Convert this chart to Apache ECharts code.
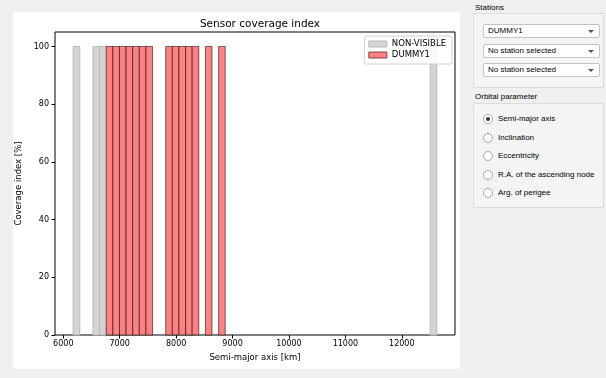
<!DOCTYPE html>
<html>
<head>
<meta charset="utf-8">
<script src="https://cdn.jsdelivr.net/npm/echarts@6/dist/echarts.min.js"></script>
<style>
  html, body { margin: 0; padding: 0; width: 606px; height: 378px; background: #f0f0f0; overflow: hidden; }
  #figure { position: absolute; left: 13px; top: 12px; width: 447px; height: 357px; background: #ffffff; }
  #chart { position: absolute; left: 0; top: 0; width: 466px; height: 378px; }
  #panel { position: absolute; left: 466px; top: 0; width: 140px; height: 378px;
           font-family: "Liberation Sans", Arial, sans-serif; font-size: 8px; color: #000; }
  .caption { position: absolute; left: 9px; }
  .group { position: absolute; left: 7px; width: 129px; border: 1px solid #dcdcdc; border-radius: 2px; background: #f4f4f4; }
  .combo { position: absolute; left: 9px; width: 115px; height: 12px; border: 1px solid #c4c4c4; border-radius: 2px;
           background: #ffffff; line-height: 12px; }
  .combo span { position: absolute; left: 4px; }
  .combo i { position: absolute; right: 5px; top: 5px; width: 0; height: 0; border-left: 3px solid transparent;
             border-right: 3px solid transparent; border-top: 3px solid #555; }
  .radio { position: absolute; left: 9px; height: 10px; line-height: 10px; }
  .radio b { position: absolute; left: 0; top: 0; width: 8px; height: 8px; border: 1px solid #a8a8a8; border-radius: 50%; background: #fff; }
  .radio b.on::after { content: ""; position: absolute; left: 2px; top: 2px; width: 4px; height: 4px; border-radius: 50%; background: #333; }
  .radio span { position: absolute; left: 15px; white-space: nowrap; }
</style>
</head>
<body>
<div id="figure"></div>
<div id="chart"></div>
<div id="panel">
  <div class="caption" style="top:3px;">Stations</div>
  <div class="group" style="top:13px; height:73px;">
    <div class="combo" style="top:10px;"><span>DUMMY1</span><i></i></div>
    <div class="combo" style="top:30px;"><span>No station selected</span><i></i></div>
    <div class="combo" style="top:49px;"><span>No station selected</span><i></i></div>
  </div>
  <div class="caption" style="top:92px;">Orbital parameter</div>
  <div class="group" style="top:103px; height:103px;">
    <div class="radio" style="top:10px;"><b class="on"></b><span>Semi-major axis</span></div>
    <div class="radio" style="top:29px;"><b></b><span>Inclination</span></div>
    <div class="radio" style="top:47px;"><b></b><span>Eccentricity</span></div>
    <div class="radio" style="top:66px;"><b></b><span>R.A. of the ascending node</span></div>
    <div class="radio" style="top:84px;"><b></b><span>Arg. of perigee</span></div>
  </div>
</div>
<script>
// Semi-major axis bins (centre of each bin, km) and coverage index per station
const binWidth = 117.2;
const nonVisibleSma = [6234, 6585, 6702, 12561];
const nonVisibleCoverage = [100, 100, 100, 100];
const dummy1Sma = [6820, 6937, 7054, 7171, 7289, 7406, 7523, 7874, 7991, 8108, 8226, 8343, 8577, 8812];
const dummy1Coverage = [100, 100, 100, 100, 100, 100, 100, 100, 100, 100, 100, 100, 100, 100];
const xTicks = [6000, 7000, 8000, 9000, 10000, 11000, 12000];
const yTicks = [0, 20, 40, 60, 80, 100];

const font = '"DejaVu Sans", sans-serif';

function pairs(xs, ys) {
  return xs.map((x, i) => [x, ys[i]]);
}

function barRenderer(fill, stroke) {
  return function (params, api) {
    const c = api.value(0);
    const v = api.value(1);
    const top = api.coord([c - binWidth / 2, v]);
    const bottom = api.coord([c + binWidth / 2, 0]);
    return {
      type: 'rect',
      shape: { x: top[0], y: top[1], width: bottom[0] - top[0], height: bottom[1] - top[1] },
      style: { fill: fill, stroke: stroke, lineWidth: 1 }
    };
  };
}

const chart = echarts.init(document.getElementById('chart'), null, { renderer: 'canvas' });
chart.setOption({
  backgroundColor: 'transparent',
  animation: false,
  title: {
    text: 'Sensor coverage index',
    left: 255, top: 14, textAlign: 'center',
    textStyle: { fontFamily: font, fontSize: 10.5, fontWeight: 'normal', color: '#000' }
  },
  grid: { left: 55, top: 32, width: 400, height: 303, show: true, borderColor: '#000', borderWidth: 1, backgroundColor: 'transparent' },
  legend: {
    orient: 'vertical', right: 14, top: 36,
    backgroundColor: 'rgba(255,255,255,0.85)', borderColor: '#d0d0d0', borderWidth: 1, borderRadius: 2,
    padding: [3, 6, 4, 4], itemGap: 1, itemWidth: 18, itemHeight: 6,
    textStyle: { fontFamily: font, fontSize: 8.5, color: '#000', lineHeight: 10 },
    data: [
      { name: 'NON-VISIBLE', icon: 'rect', itemStyle: { color: '#d4d4d4', borderColor: '#b8b8b8', borderWidth: 1 } },
      { name: 'DUMMY1', icon: 'rect', itemStyle: { color: '#ff8080', borderColor: '#804040', borderWidth: 1 } }
    ]
  },
  xAxis: {
    type: 'value', min: 5853, max: 12943,
    name: 'Semi-major axis [km]', nameLocation: 'middle', nameGap: 17,
    nameTextStyle: { fontFamily: font, fontSize: 8.5, color: '#000' },
    axisLine: { show: false },
    axisTick: { show: true, length: 3.5, lineStyle: { color: '#000' }, customValues: xTicks },
    axisLabel: { fontFamily: font, fontSize: 8, color: '#000', margin: 5, customValues: xTicks, formatter: v => String(v) },
    splitLine: { show: false }
  },
  yAxis: {
    type: 'value', min: 0, max: 105,
    name: 'Coverage index [%]', nameLocation: 'middle', nameGap: 26, nameRotate: 90,
    nameTextStyle: { fontFamily: font, fontSize: 8.5, color: '#000' },
    axisLine: { show: false },
    axisTick: { show: true, length: 3.5, lineStyle: { color: '#000' }, customValues: yTicks },
    axisLabel: { fontFamily: font, fontSize: 8, color: '#000', margin: 6, customValues: yTicks, formatter: v => String(v) },
    splitLine: { show: false }
  },
  series: [
    {
      name: 'NON-VISIBLE', type: 'custom',
      itemStyle: { color: '#d4d4d4', borderColor: '#b8b8b8' },
      renderItem: barRenderer('#d4d4d4', '#b8b8b8'),
      encode: { x: 0, y: 1 },
      data: pairs(nonVisibleSma, nonVisibleCoverage)
    },
    {
      name: 'DUMMY1', type: 'custom',
      itemStyle: { color: '#ff8080', borderColor: '#804040' },
      renderItem: barRenderer('#ff8080', 'rgba(0,0,0,0.55)'),
      encode: { x: 0, y: 1 },
      data: pairs(dummy1Sma, dummy1Coverage)
    }
  ]
});
</script>
</body>
</html>
